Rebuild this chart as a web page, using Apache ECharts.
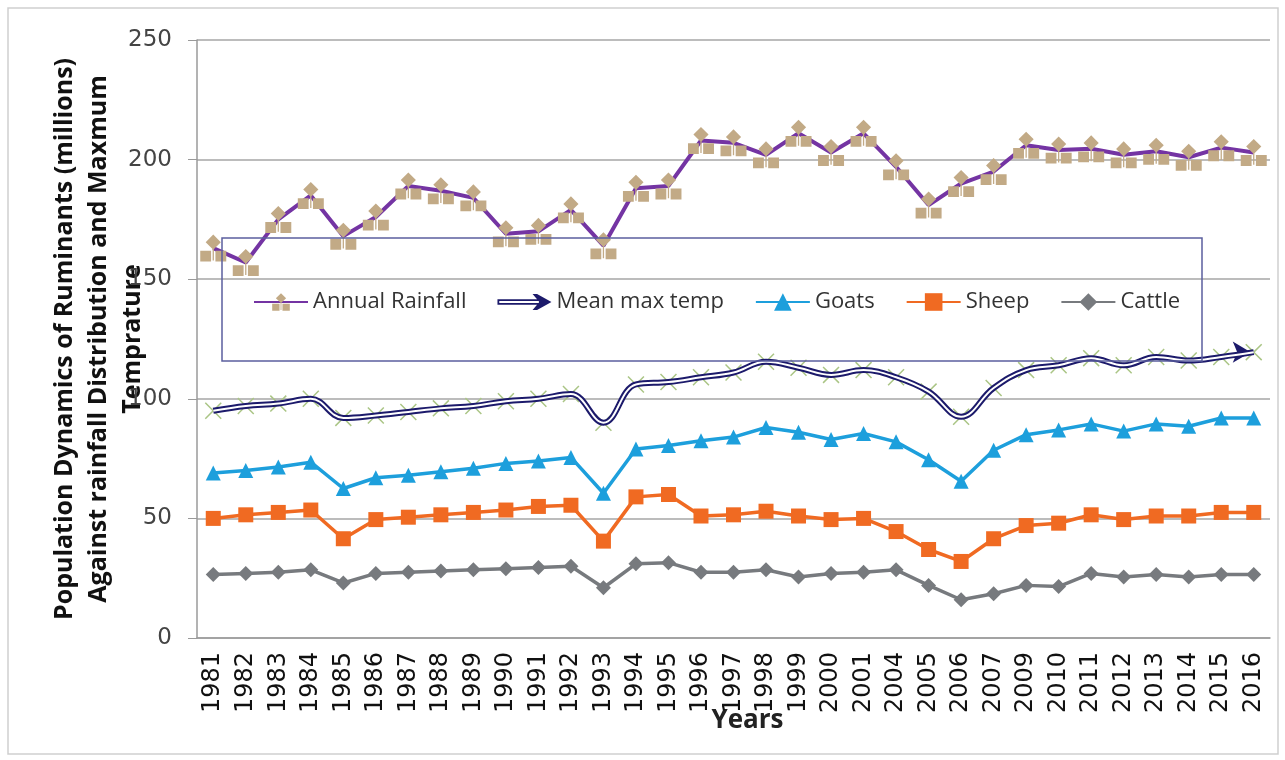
<!DOCTYPE html>
<html>
<head>
<meta charset="utf-8">
<script src="https://cdn.jsdelivr.net/npm/echarts@6/dist/echarts.min.js"></script>
<style>
  html, body { margin: 0; background: #fff; }
  #chart { width: 1285px; height: 760px; }
</style>
</head>
<body>
<div id="chart"></div>
<script>
var years = ['1981','1982','1983','1984','1985','1986','1987','1988','1989','1990','1991','1992','1993','1994','1995','1996',
  '1997','1998','1999','2000','2001','2004','2005','2006','2007','2009','2010','2011','2012','2013','2014','2015','2016'];
var rainfall = [163,157,175,185,168,176,189,187,184,169,170,179,164,188,189,208,
  207,202,211,203,211,197,181,190,195,206,204,204.5,202,203.5,201,205,203];
var maxTemp = [95,97,98,100,92,93,94.5,96,97,99,100,102,90,106,107,109,
  111,115.5,113,110,112,109,103,92.5,104.5,112,114,117,114,117.5,116,117.5,119.5];
var goats = [69,70,71.5,73.5,62.5,67,68,69.5,71,73,74,75.5,60.5,79,80.5,82.5,
  84,88,86,83,85.5,82,74.5,65.5,78.5,85,87,89.5,86.5,89.5,88.5,92,92];
var sheep = [50,51.5,52.5,53.5,41.5,49.5,50.5,51.5,52.5,53.5,55,55.5,40.5,59,60,51,
  51.5,53,51,49.5,50,44.5,37,32,41.5,47,48,51.5,49.5,51,51,52.5,52.5];
var cattle = [26.5,27,27.5,28.5,23,27,27.5,28,28.5,29,29.5,30,21,31,31.5,27.5,
  27.5,28.5,25.5,27,27.5,28.5,22,16,18.5,22,21.5,27,25.5,26.5,25.5,26.5,26.5];

// composite marker: diamond over two squares, like the spreadsheet marker
var rainSymbol = 'path://M12,0 L19,7 L12,14 L5,7 Z M0,15 L10,15 L10,25 L0,25 Z M14,15 L24,15 L24,25 L14,25 Z M11.4,12 L12.6,12 L12.6,24 L11.4,24 Z';
var crossSymbol = 'path://M0,1 L1,0 L8,7 L15,0 L16,1 L9,8 L16,15 L15,16 L8,9 L1,16 L0,15 L7,8 Z';
var arrowIcon = 'path://M0,7 L44,7 L39,1 L44,1 L60,10 L44,19 L39,19 L44,13 L0,13 Z M2,9 L2,11 L46,11 L46,9 Z';

var last = maxTemp.length - 1;
var tempData = maxTemp.map(function (v, i) {
  if (i === last) {
    return { value: v, symbol: 'arrow', symbolSize: [16, 18], symbolRotate: -90, symbolOffset: [-3, 0],
      itemStyle: { color: '#1c1a6b' } };
  }
  return v;
});

var chart = echarts.init(document.getElementById('chart'));
var option = {
  animation: false,
  backgroundColor: '#fff',
  textStyle: { fontFamily: 'Open Sans' },
  graphic: [
    { type: 'rect', shape: { x: 8, y: 8, width: 1270, height: 746 },
      style: { fill: 'none', stroke: '#cfcfcf', lineWidth: 1.5 }, silent: true },
    { type: 'rect', shape: { x: 222, y: 238, width: 980, height: 123 },
      style: { fill: 'none', stroke: '#5b5f9e', lineWidth: 1.5 }, silent: true, z: 10 }
  ],
  grid: { left: 197, top: 40, right: 15, bottom: 122 },
  legend: {
    left: 248, top: 286,
    itemWidth: 54, itemHeight: 22, itemGap: 31,
    textStyle: { fontSize: 22, color: '#333', fontFamily: 'Open Sans' },
    data: [
      { name: 'Annual Rainfall' },
      { name: 'Mean max temp', icon: arrowIcon, itemStyle: { color: '#1c1a6b' } },
      { name: 'Goats' }, { name: 'Sheep' }, { name: 'Cattle' }
    ]
  },
  xAxis: {
    type: 'category',
    data: years,
    boundaryGap: true,
    name: 'Years',
    nameLocation: 'middle',
    nameGap: 70,
    nameMoveOverlap: false,
    nameTextStyle: { fontSize: 26, fontWeight: 'bold', color: '#222', fontFamily: 'Open Sans', padding: [0, 0, 0, 28] },
    axisLine: { lineStyle: { color: '#9a9a9a', width: 1.5 } },
    axisTick: { show: false },
    axisLabel: { rotate: 90, interval: 0, fontSize: 24, color: '#111', fontFamily: 'DejaVu Sans', margin: 14 }
  },
  yAxis: {
    type: 'value',
    min: 0, max: 250, interval: 50,
    name: 'Population Dynamics of Ruminants (millions)\nAgainst rainfall Distribution and Maxmum\nTemprature',
    nameLocation: 'middle',
    nameRotate: 90,
    nameGap: 47,
    nameMoveOverlap: false,
    nameTextStyle: { fontSize: 25, fontWeight: 'bold', color: '#111', lineHeight: 34, fontFamily: 'Open Sans', align: 'center' },
    axisLine: { show: true, lineStyle: { color: '#9a9a9a', width: 1.5 } },
    axisTick: { show: true, length: 9, lineStyle: { color: '#9a9a9a' } },
    axisLabel: { fontSize: 23, color: '#444', fontFamily: 'DejaVu Sans', margin: 25 },
    splitLine: { lineStyle: { color: '#a6a6a6', width: 1.5 } }
  },
  series: [
    {
      name: 'Annual Rainfall', type: 'line', data: rainfall, z: 5,
      lineStyle: { color: '#7434a3', width: 4 },
      itemStyle: { color: '#c2aa86' },
      symbol: rainSymbol, symbolSize: [26, 27]
    },
    {
      name: 'mmt-marks', type: 'line', data: maxTemp, z: 2,
      lineStyle: { width: 0, opacity: 0 },
      itemStyle: { color: '#aac585' },
      symbol: crossSymbol, symbolSize: 17
    },
    {
      name: 'Mean max temp', type: 'line', data: tempData, z: 3, smooth: 0.4,
      lineStyle: { color: '#1c1a6b', width: 6 },
      itemStyle: { color: '#1c1a6b' },
      symbol: 'none'
    },
    {
      name: 'mmt-inner', type: 'line', data: maxTemp, z: 4, smooth: 0.4,
      lineStyle: { color: '#ffffff', width: 2 },
      symbol: 'none'
    },
    {
      name: 'Goats', type: 'line', data: goats, z: 5,
      lineStyle: { color: '#1d9fdc', width: 3.5 },
      itemStyle: { color: '#1d9fdc' },
      symbol: 'triangle', symbolSize: 15
    },
    {
      name: 'Sheep', type: 'line', data: sheep, z: 5,
      lineStyle: { color: '#f06a22', width: 3.5 },
      itemStyle: { color: '#f06a22' },
      symbol: 'rect', symbolSize: 15
    },
    {
      name: 'Cattle', type: 'line', data: cattle, z: 5,
      lineStyle: { color: '#777a7e', width: 3.5 },
      itemStyle: { color: '#777a7e' },
      symbol: 'diamond', symbolSize: 15
    }
  ]
};
chart.setOption(option);
</script>
</body>
</html>
